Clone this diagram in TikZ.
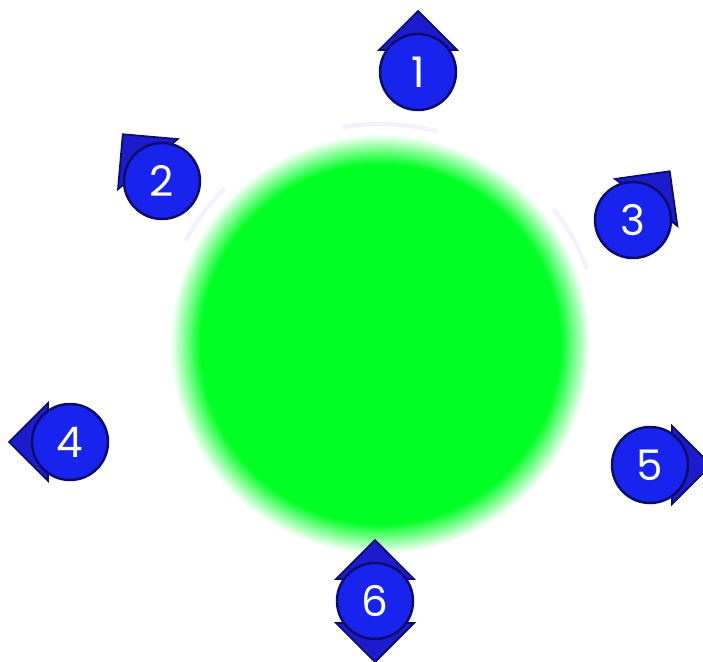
\documentclass[tikz,border=0pt]{standalone}
\usepackage{fontspec}
\setmainfont{Poppins}
\definecolor{xanhla}{RGB}{0,255,36}
\definecolor{xanhduong}{RGB}{24,36,238}
\definecolor{xanhdam}{RGB}{28,28,205}
\definecolor{vien}{RGB}{12,12,105}
\pgfdeclareradialshading{dia}{\pgfpointorigin}{color(0bp)=(xanhla); color(21.4bp)=(xanhla); color(23.4bp)=(xanhla!45!white); color(25bp)=(white); color(50bp)=(white)}
\tikzset{
	diem/.style={circle, draw=vien, line width=1.4pt, fill=xanhduong, text=white, minimum size=1.52cm, inner sep=0pt, font=\fontsize{24}{24}\selectfont},
	muiten/.style={draw=vien, line width=1pt, fill=xanhdam, line join=miter}
}
\begin{document}
\begin{tikzpicture}
	\clip (0,0) rectangle (14.06,13.22);
	\fill[white] (0,0) rectangle (14.06,13.22);
	% Vẽ hình tròn xanh lá
	\coordinate (tam) at (7.60,6.34);
	\shade[shading=dia] (tam) circle (4.2);
	% Vòng mờ
	\draw[blue!5, line width=2.5pt] (tam) ++(75:4.4) arc (75:100:4.4);
	\draw[blue!5, line width=2.5pt] (tam) ++(135:4.4) arc (135:152:4.4);
	\draw[blue!5, line width=2.5pt] (tam) ++(20:4.4) arc (20:38:4.4);
	% Vẽ các điểm
	\coordinate (c1) at (8.36,11.78);
	\coordinate (c2) at (3.24,9.60);
	\coordinate (c3) at (12.66,8.82);
	\coordinate (c4) at (1.40,4.38);
	\coordinate (c5) at (13.00,3.92);
	\coordinate (c6) at (7.50,1.20);
	\foreach \c/\goc in {c1/90,c2/130,c3/53,c4/180,c5/0,c6/90,c6/270}
		\filldraw[muiten, shift={(\c)}, rotate=\goc] (1.22,0) -- (0.44,0.78) -- (0.44,-0.78) -- cycle;
	\node[diem] (m1) at (c1) {1};
	\node[diem] (m2) at (c2) {2};
	\node[diem] (m3) at (c3) {3};
	\node[diem] (m4) at (c4) {4};
	\node[diem] (m5) at (c5) {5};
	\node[diem] (m6) at (c6) {6};
\end{tikzpicture}
\end{document}
